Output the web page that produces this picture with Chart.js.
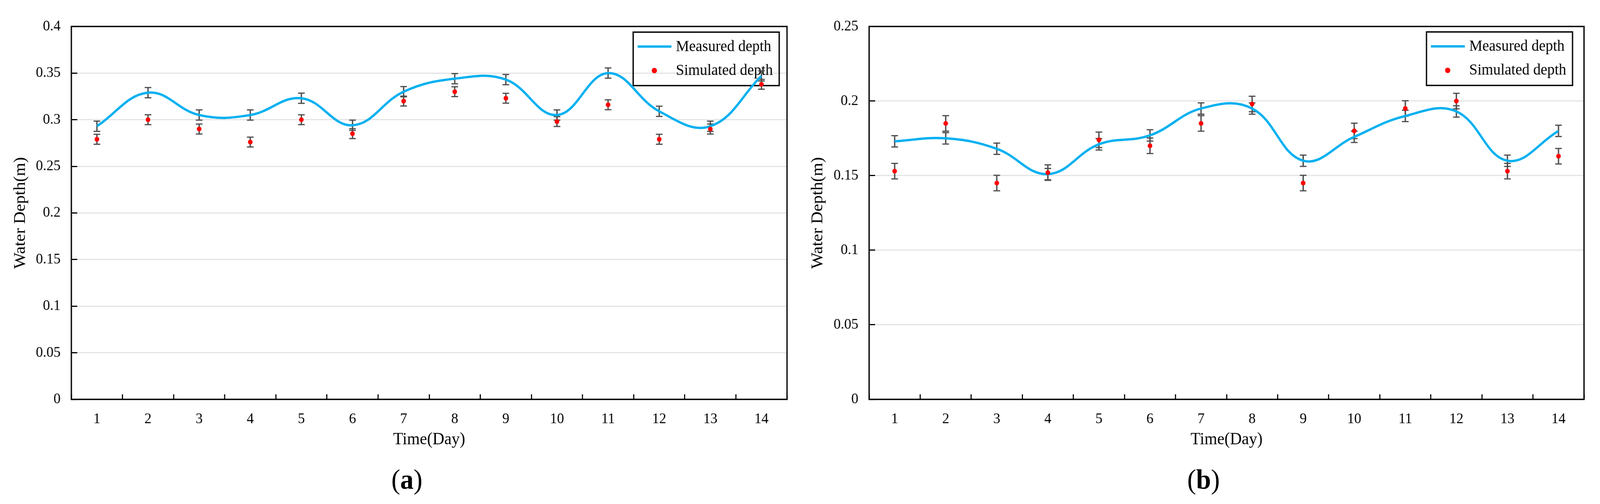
<!DOCTYPE html>
<html><head><meta charset="utf-8">
<script src="https://cdn.jsdelivr.net/npm/chart.js@4.4.1/dist/chart.umd.min.js"></script>
<style>
html,body{margin:0;padding:0;background:#fff;overflow:hidden;}
#wrap{position:absolute;left:0;top:0;width:4306px;height:1291px;transform-origin:0 0;background:#fff;}
canvas{position:absolute;top:0;}
#ca{left:0;} #cb{left:2150px;}
.cap{position:absolute;font-family:'Liberation Serif','Times New Roman',serif;font-size:72px;line-height:72px;top:1192px;width:400px;text-align:center;color:#000;}
</style></head><body>
<div id="wrap">
<canvas id="ca" width="2150" height="1291"></canvas>
<canvas id="cb" width="2156" height="1291"></canvas>
<div class="cap" style="left:895px">(<b>a</b>)</div>
<div class="cap" style="left:3039px">(<b>b</b>)</div>
</div>
<script>
// ---------- data ----------
const days = ['1','2','3','4','5','6','7','8','9','10','11','12','13','14'];
const seriesNames = ['Measured depth', 'Simulated depth'];
const xTitle = 'Time(Day)';
const yTitle = 'Water Depth(m)';

const measuredA    = [0.293, 0.329, 0.305, 0.305, 0.323, 0.294, 0.330, 0.344, 0.343, 0.305, 0.350, 0.309, 0.293, 0.347];
const simulatedA   = [0.279, 0.300, 0.290, 0.276, 0.300, 0.285, 0.320, 0.330, 0.323, 0.298, 0.316, 0.279, 0.290, 0.338];
const measuredErrA = [0.0055, 0.0055, 0.0055, 0.0055, 0.0055, 0.0055, 0.0055, 0.0055, 0.0055, 0.0055, 0.0055, 0.0055, 0.0055, 0.0055];
const simulatedErrA= [0.0053, 0.0053, 0.0053, 0.0053, 0.0053, 0.0053, 0.0053, 0.0053, 0.0053, 0.0053, 0.0053, 0.0053, 0.0053, 0.0053];
const yTicksA = ['0','0.05','0.1','0.15','0.2','0.25','0.3','0.35','0.4'];

const measuredB    = [0.173, 0.175, 0.168, 0.151, 0.171, 0.177, 0.195, 0.195, 0.160, 0.176, 0.190, 0.193, 0.160, 0.180];
const simulatedB   = [0.153, 0.185, 0.145, 0.152, 0.174, 0.170, 0.185, 0.198, 0.145, 0.180, 0.195, 0.200, 0.153, 0.163];
const measuredErrB = [0.0038, 0.0038, 0.0038, 0.0038, 0.0038, 0.0038, 0.0038, 0.0038, 0.0038, 0.0038, 0.0038, 0.0038, 0.0038, 0.0038];
const simulatedErrB= [0.0052, 0.0052, 0.0052, 0.0052, 0.0052, 0.0052, 0.0052, 0.0052, 0.0052, 0.0052, 0.0052, 0.0052, 0.0052, 0.0052];
const yTicksB = ['0','0.05','0.1','0.15','0.2','0.25'];

// ---------- fit the 4306x1291 page to the actual viewport ----------
const PAGE_W = 4306, PAGE_H = 1291;
const sx = (window.innerWidth / PAGE_W) || 1, sy = (window.innerHeight / PAGE_H) || 1;
document.getElementById('wrap').style.transform = 'scale(' + sx + ',' + sy + ')';

// ---------- style ----------
const FONT = "'Liberation Serif','Times New Roman',serif";
const BLUE = '#00b0f0', RED = '#ff0000', ERR = '#4d4d4d';

const frameLegend = {
  id: 'frameLegend',
  beforeDatasetsDraw(chart, args, opts) {
    const {ctx, chartArea: a} = chart;
    ctx.save();
    ctx.strokeStyle = '#000';
    ctx.lineWidth = 3.5;
    ctx.strokeRect(a.left, a.top, a.right - a.left, a.bottom - a.top);
    const w = 393, h = 137;
    const x = a.right - opts.rightGap - w, y = a.top + opts.topGap;
    ctx.lineWidth = 3.5;
    ctx.strokeRect(x, y, w, h);
    ctx.strokeStyle = BLUE; ctx.lineWidth = 6;
    ctx.beginPath(); ctx.moveTo(x + 12, y + 37); ctx.lineTo(x + 103, y + 37); ctx.stroke();
    ctx.fillStyle = RED;
    ctx.beginPath(); ctx.arc(x + 57, y + 98.5, 7, 0, Math.PI * 2); ctx.fill();
    ctx.fillStyle = '#000';
    ctx.font = '40px ' + FONT;
    ctx.textBaseline = 'middle'; ctx.textAlign = 'left';
    ctx.fillText(seriesNames[0], x + 115, y + 38);
    ctx.fillText(seriesNames[1], x + 115, y + 99);
    ctx.restore();
  }
};

function capSet(vals, errs, sign) { return vals.map((v, i) => v + sign * errs[i]); }
function barSet(vals, errs) { return vals.map((v, i) => [v - errs[i], v + errs[i]]); }

function makeChart(id, measured, simulated, errM, errS, yMax, yLabels, L) {
  const capStyle = {type: 'line', showLine: false, pointStyle: 'line', pointRadius: 9, pointHoverRadius: 9,
                    pointBorderWidth: 3, pointBorderColor: ERR, borderColor: ERR, order: 2};
  const barStyle = {type: 'bar', backgroundColor: ERR, borderWidth: 0, barThickness: 3, grouped: false, order: 2};
  return new Chart(document.getElementById(id), {
    type: 'line',
    data: {
      labels: days,
      datasets: [
        {type: 'line', label: seriesNames[1], data: simulated, showLine: false, pointRadius: 6.2, pointHoverRadius: 6.2,
         pointBackgroundColor: RED, pointBorderWidth: 0, order: 0},
        {type: 'line', label: seriesNames[0], data: measured, borderColor: BLUE, borderWidth: 6, tension: 0.4,
         pointRadius: 0, pointHoverRadius: 0, fill: false, order: 1},
        Object.assign({data: barSet(measured, errM)}, barStyle),
        Object.assign({data: barSet(simulated, errS)}, barStyle),
        Object.assign({data: capSet(measured, errM, -1)}, capStyle),
        Object.assign({data: capSet(measured, errM, 1)}, capStyle),
        Object.assign({data: capSet(simulated, errS, -1)}, capStyle),
        Object.assign({data: capSet(simulated, errS, 1)}, capStyle)
      ]
    },
    options: {
      responsive: false,
      animation: false,
      devicePixelRatio: 1,
      events: [],
      layout: {padding: {left: 0, right: L.padRight, top: L.padTop, bottom: L.padBottom}},
      plugins: {
        legend: {display: false},
        tooltip: {enabled: false},
        frameLegend: {rightGap: L.legRight, topGap: L.legTop}
      },
      scales: {
        x: {
          type: 'category', offset: true,
          grid: {offset: true, drawOnChartArea: false, drawTicks: true, tickLength: -13, tickColor: '#000', tickWidth: 3},
          border: {display: false},
          ticks: {font: {size: 38, family: FONT}, color: '#000', padding: 41, maxRotation: 0, autoSkip: false},
          title: {display: true, text: xTitle, color: '#000', font: {size: 44, family: FONT}, padding: {top: 0, bottom: L.xTitlePad}},
          afterFit(s) { s.height = L.xHeight; }
        },
        y: {
          type: 'linear', min: 0, max: yMax,
          grid: {color: '#e4e4e4', lineWidth: 3, drawTicks: true, tickLength: -16, tickColor: '#000', tickWidth: 3},
          border: {display: false},
          ticks: {stepSize: 0.05, font: {size: 38, family: FONT}, color: '#000', padding: 45,
                  callback: (v) => yLabels[Math.round(v / 0.05)]},
          title: {display: true, text: yTitle, color: '#000', font: {size: 44, family: FONT}, padding: {top: L.yTitlePad, bottom: 0}},
          afterFit(s) { s.width = L.yWidth; }
        }
      }
    },
    plugins: [frameLegend]
  });
}

makeChart('ca', measuredA, simulatedA, measuredErrA, simulatedErrA, 0.4, yTicksA,
  {padRight: 32, padTop: 56, padBottom: 118, xHeight: 150, yWidth: 192, xTitlePad: 20.6, yTitlePad: 28.6, legRight: 21, legTop: 14.5});
makeChart('cb', measuredB, simulatedB, measuredErrB, simulatedErrB, 0.25, yTicksB,
  {padRight: 43, padTop: 55, padBottom: 118, xHeight: 150, yWidth: 189, xTitlePad: 20.6, yTitlePad: 24.6, legRight: 31, legTop: 14});
</script>
</body></html>
